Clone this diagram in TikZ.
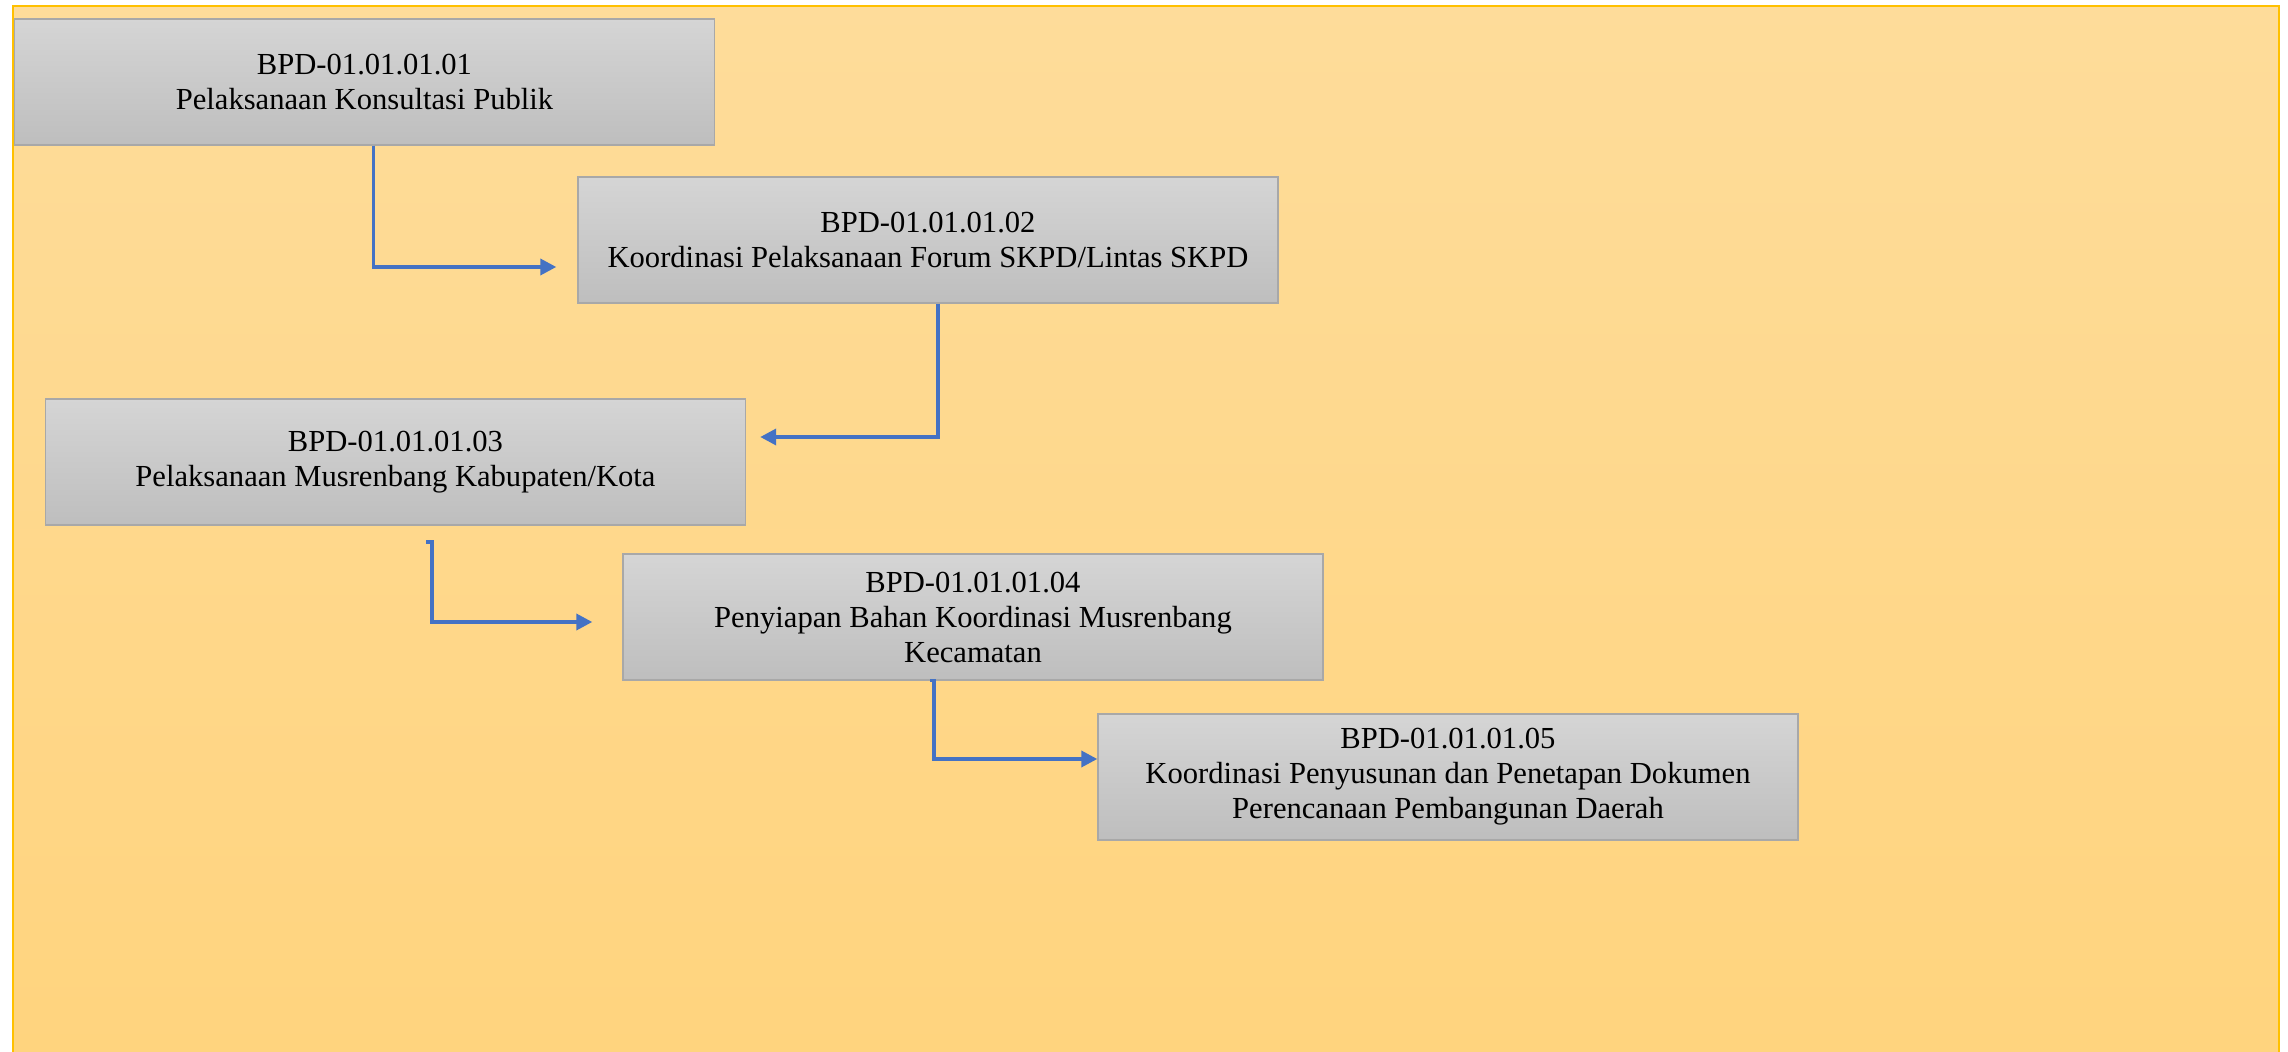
\documentclass[tikz,border=0pt]{standalone}
\usepackage{fontspec}
\setmainfont{Liberation Serif}
\usetikzlibrary{arrows.meta,calc}

\definecolor{panelTop}{RGB}{254,220,154}
\definecolor{panelBot}{RGB}{255,212,126}
\definecolor{panelEdge}{RGB}{255,192,0}
\definecolor{boxTop}{RGB}{213,213,213}
\definecolor{boxBot}{RGB}{190,190,190}
\definecolor{boxLine}{RGB}{168,168,168}
\definecolor{linkBlue}{RGB}{68,114,196}

\begin{document}
\begin{tikzpicture}[x=0.5pt,y=0.5pt,
  stepbox/.style={draw=boxLine, line width=0.7pt, top color=boxTop, bottom color=boxBot,
    minimum width=350pt, minimum height=63pt, inner sep=0pt, align=center,
    font=\fontsize{15.3}{17.5}\selectfont},
  conn/.style={draw=linkBlue, line width=1.8pt, line join=miter,
    -{Triangle[length=8pt,width=8pt]}}]

% page and panel
\useasboundingbox (0,0) rectangle (2288,-1052);
\fill[white] (0,0) rectangle (2288,-1052);
\shade[top color=panelTop, bottom color=panelBot] (13,-6) rectangle (2279,-1052);
\draw[panelEdge, line width=1.1pt] (13,-1052) -- (13,-6) -- (2279,-6) -- (2279,-1052);

% process steps
\node[stepbox] (b1) at (364.5,-82) {BPD-01.01.01.01\\Pelaksanaan Konsultasi Publik};
\node[stepbox] (b2) at (928,-240) {BPD-01.01.01.02\\Koordinasi Pelaksanaan Forum SKPD/Lintas SKPD};
\node[stepbox] (b3) at (395.5,-462) {BPD-01.01.01.03\\Pelaksanaan Musrenbang Kabupaten/Kota};
\node[stepbox] (b4) at (973,-617) {BPD-01.01.01.04\\Penyiapan Bahan Koordinasi Musrenbang\\Kecamatan};
\node[stepbox] (b5) at (1448,-777) {BPD-01.01.01.05\\Koordinasi Penyusunan dan Penetapan Dokumen\\Perencanaan Pembangunan Daerah};

% elbow connectors
\coordinate (k1) at (373.5,-267);
\draw[conn, shorten >=10.5pt] (b1.south -| k1) -- (k1) -- (k1 -| b2.west);

\coordinate (k2) at (938,-437);
\draw[conn, shorten >=7pt] (b2.south -| k2) -- (k2) -- (k2 -| b3.east);

\coordinate (s3) at (426,-542);
\coordinate (k3) at (432,-622);
\draw[conn, shorten >=15pt] (s3) -- (s3 -| k3) -- (k3) -- (k3 -| b4.west);

\coordinate (k4) at (934,-759);
\draw[conn] ($(b4.south -| k4)+(-4,0)$) -- (b4.south -| k4) -- (k4) -- (k4 -| b5.west);
\end{tikzpicture}
\end{document}
